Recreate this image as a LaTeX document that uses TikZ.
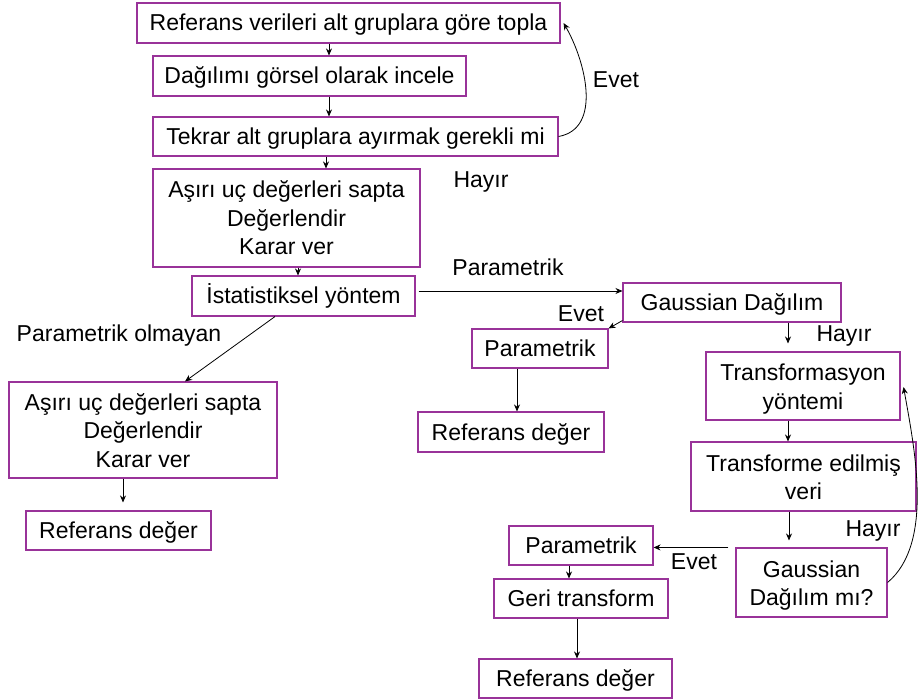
\documentclass[tikz,border=0pt]{standalone}
\usepackage{fontspec}
\setmainfont{Liberation Sans}
\usetikzlibrary{arrows.meta}
\definecolor{boxc}{HTML}{993399}
\begin{document}
\begin{tikzpicture}[x=1pt,y=1pt,
  every node/.style={font=\fontsize{23}{28.5}\selectfont},
  box/.style={draw=boxc, line width=1.1pt, inner sep=0pt, align=center, text height=20pt, text depth=4pt},
  twoline/.style={text height=50pt, text depth=4pt},
  threeline/.style={text height=78pt, text depth=4pt},
  lbl/.style={inner sep=0pt},
  arr/.style={draw=black, line width=0.8pt, -{Stealth[length=7pt,width=6pt]}}]
\useasboundingbox (0,0) rectangle (918,-700);
% boxes
\node[box, minimum width=423, minimum height=40] (b1) at (348.5,-23) {Referans verileri alt gruplara göre topla};
\node[box, minimum width=313, minimum height=40] (b2) at (309.5,-76) {Dağılımı görsel olarak incele};
\node[box, minimum width=405, minimum height=39] (b3) at (355.5,-136.5) {Tekrar alt gruplara ayırmak gerekli mi};
\node[box, threeline, minimum width=267, minimum height=98] (b4) at (286.5,-218) {Aşırı uç değerleri sapta\\Değerlendir\\Karar ver};
\node[box, minimum width=223, minimum height=40] (b5) at (303.5,-296) {İstatistiksel yöntem};
\node[box, minimum width=218, minimum height=39] (g1) at (732,-302.5) {Gaussian Dağılım};
\node[box, minimum width=136, minimum height=39] (p1) at (540,-348.5) {Parametrik};
\node[box, minimum width=186, minimum height=40] (r1) at (511,-432) {Referans değer};
\node[box, twoline, minimum width=194, minimum height=68] (t1) at (803,-386) {Transformasyon\\yöntemi};
\node[box, twoline, minimum width=225, minimum height=69] (te) at (803.5,-476.5) {Transforme edilmiş\\veri};
\node[box, twoline, minimum width=151, minimum height=69] (gm) at (811.5,-582.5) {Gaussian\\Dağılım mı?};
\node[box, minimum width=144, minimum height=39] (p2) at (581,-545.5) {Parametrik};
\node[box, minimum width=174, minimum height=39] (gt) at (581,-598.5) {Geri transform};
\node[box, minimum width=193, minimum height=39] (r2) at (575.5,-678.5) {Referans değer};
\node[box, threeline, minimum width=268, minimum height=96] (lb) at (143,-430) {Aşırı uç değerleri sapta\\Değerlendir\\Karar ver};
\node[box, minimum width=185, minimum height=39] (r3) at (118.5,-530.5) {Referans değer};
% labels
\node[lbl] (levet1) at (616,-80) {Evet};
\node[lbl] (lhayir1) at (481,-182) {Hayır};
\node[lbl] (lpar) at (508,-267) {Parametrik};
\node[lbl] (levet2) at (581,-314) {Evet};
\node[lbl] (lhayir2) at (844,-336) {Hayır};
\node[lbl] (lpo) at (119,-336) {Parametrik olmayan};
\node[lbl] (lhayir3) at (873,-531) {Hayır};
\node[lbl] (levet3) at (694,-562) {Evet};
% connectors
\draw[arr] ([xshift=-19.5pt]b1.south) -- ([xshift=19.5pt]b2.north);
\draw[arr] ([xshift=19.5pt]b2.south) -- ([xshift=-26.5pt]b3.north);
\draw[arr] ([xshift=-29.5pt]b3.south) -- ([xshift=39.5pt]b4.north);
\draw[arr] ([xshift=11.5pt]b4.south) -- ([xshift=-5.5pt]b5.north);
\draw[arr] (b3.east) to[out=10,in=-60] ([xshift=3pt]b1.east);
\draw[arr] ([xshift=3pt,yshift=5pt]b5.east) -- ([yshift=5pt]b5.east -| g1.west);
\draw[arr] ([yshift=2pt]g1.south west) -- (p1.north east);
\draw[arr] ([xshift=-23pt]p1.south) -- ([xshift=6pt]r1.north);
\draw[arr, shorten >=8pt] ([xshift=56pt]g1.south) -- ([xshift=-15pt]t1.north);
\draw[arr] ([xshift=-15pt]t1.south) -- ([xshift=-15.5pt]te.north);
\draw[arr, shorten >=7pt] ([xshift=-14.5pt]te.south) -- ([xshift=-22.5pt]gm.north);
\draw[arr] ([xshift=-7pt]gm.north west) -- (gm.north west -| p2.east);
\draw[arr] (gm.east) to[out=40,in=-80,looseness=0.8] ([xshift=3pt,yshift=-1pt]t1.east);
\draw[arr] ([xshift=-12pt]p2.south) -- ([xshift=-12pt]gt.north);
\draw[arr] ([xshift=-4pt]gt.south) -- ([xshift=1.5pt]r2.north);
\draw[arr] ([xshift=-28.5pt]b5.south) -- ([xshift=42pt]lb.north);
\draw[arr, shorten >=8pt] ([xshift=-20pt]lb.south) -- ([xshift=4.5pt]r3.north);
\end{tikzpicture}
\end{document}
